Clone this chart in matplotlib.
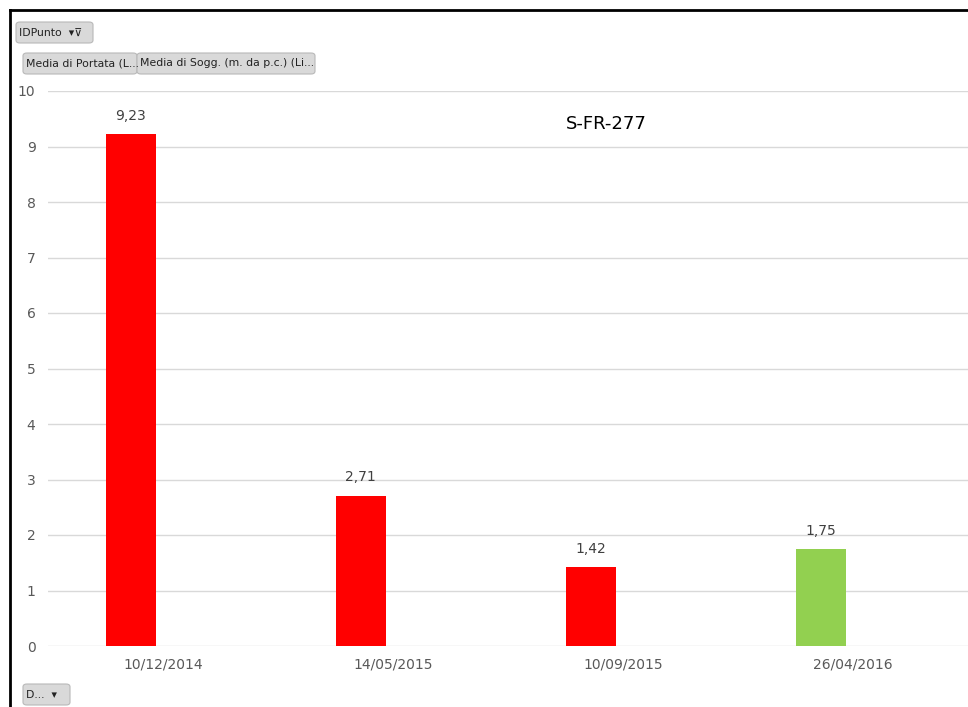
import matplotlib.pyplot as plt
from matplotlib.patches import FancyBboxPatch
from matplotlib.lines import Line2D

dates = ["10/12/2014", "14/05/2015", "10/09/2015", "26/04/2016"]
portata = [9.23, 2.71, 1.42, 1.75]
bar_colors = ["#FF0000", "#FF0000", "#FF0000", "#92D050"]
point_id = "S-FR-277"

W, H = 968, 707
fig = plt.figure(figsize=(W / 100, H / 100), dpi=100)
fig.patch.set_facecolor("white")

ax = fig.add_axes([48 / W, (H - 646) / H, 1 - 48 / W, (646 - 91) / H])
x = range(len(dates))
xs = [i - 0.14 for i in x]
ax.bar(xs, portata, width=0.22, color=bar_colors, zorder=3)
for xi, v in zip(xs, portata):
    ax.text(xi, v + 0.2, f"{v:.2f}".replace(".", ","), ha="center", va="bottom",
            fontsize=10, color="#404040")

ax.set_xlim(-0.5, 3.5)
ax.set_ylim(0, 10)
ax.set_yticks(range(0, 11))
ax.set_xticks(list(x))
ax.set_xticklabels(dates)
ax.grid(axis="y", color="#d9d9d9", linewidth=1, zorder=0)
for s in ax.spines.values():
    s.set_visible(False)
ax.tick_params(length=0, labelsize=10, labelcolor="#595959")
ax.tick_params(axis="y", pad=9)
ax.tick_params(axis="x", pad=8)

ax.text(0.607, 0.94, point_id, transform=ax.transAxes, ha="center", va="center",
        fontsize=13, color="black")

# outer frame (top and left)
fig.add_artist(Line2D([10 / W, 1], [1 - 10 / H, 1 - 10 / H], color="black", lw=2))
fig.add_artist(Line2D([10 / W, 10 / W], [0, 1 - 10 / H], color="black", lw=2))


def button(x0, y0, x1, y1, label):
    fig.add_artist(FancyBboxPatch((x0 / W, 1 - y1 / H), (x1 - x0) / W, (y1 - y0) / H,
                                  boxstyle="round,pad=0,rounding_size=0.004",
                                  facecolor="#d9d9d9", edgecolor="#b8b8b8", lw=0.8))
    fig.text((x0 + 3) / W, 1 - (y0 + y1) / 2 / H, label, ha="left", va="center",
             fontsize=7.8, color="#222222")


button(16, 22, 93, 43, "IDPunto  ▾⊽")
button(23, 53, 137, 74, "Media di Portata (L...")
button(137, 53, 315, 74, "Media di Sogg. (m. da p.c.) (Li...")
button(23, 684, 70, 705, "D...  ▾")

fig.savefig("out.png", dpi=100)
